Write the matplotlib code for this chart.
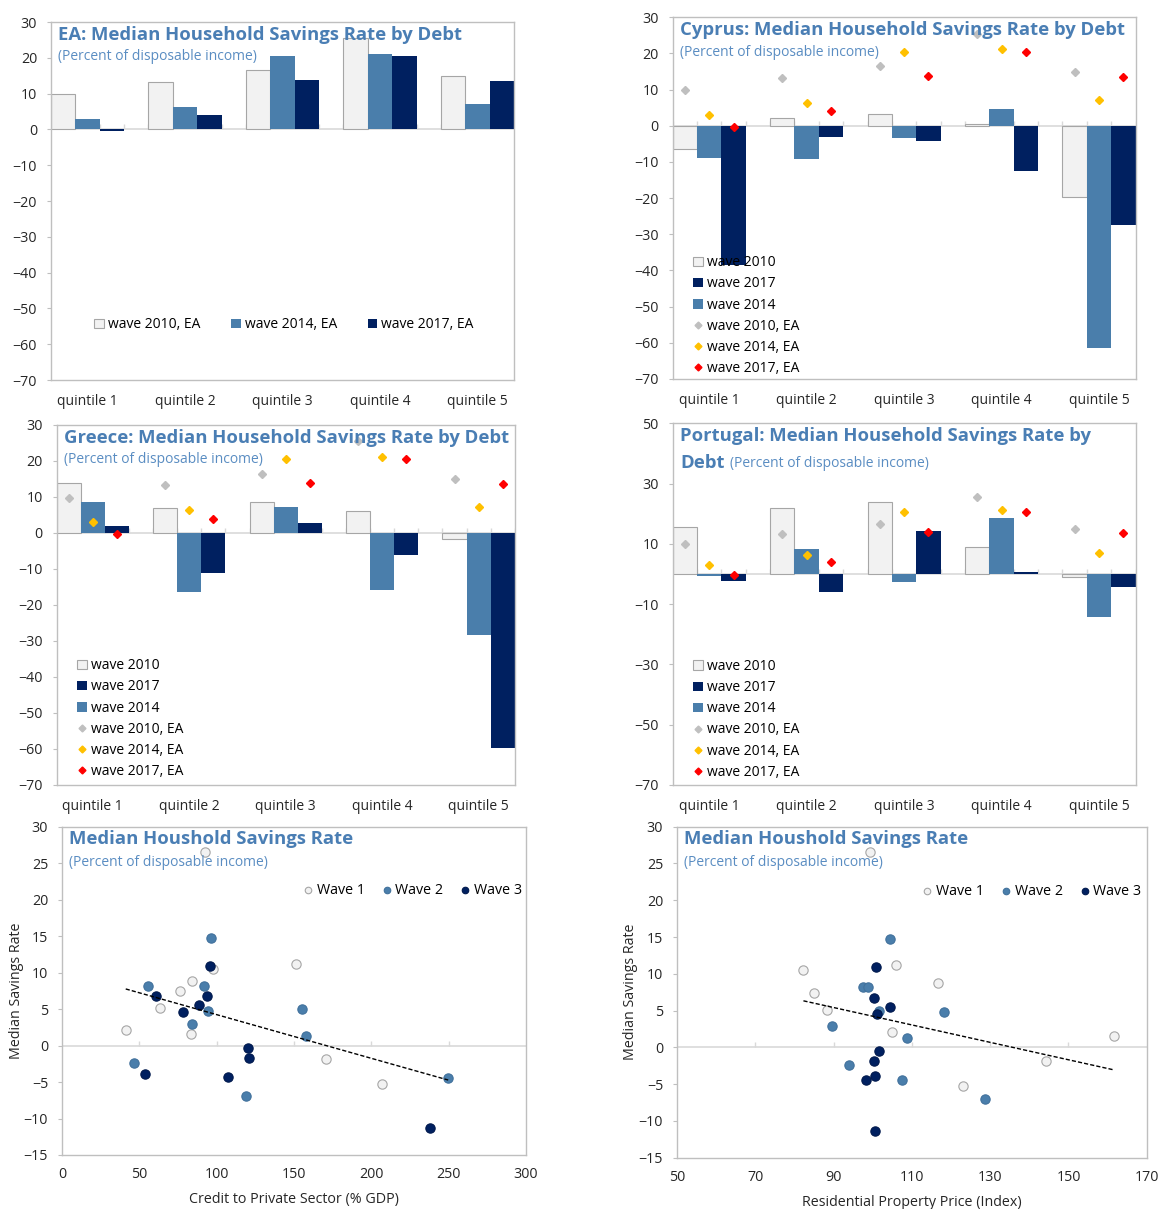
import numpy as np
import matplotlib
matplotlib.use("Agg")
import matplotlib.pyplot as plt
from matplotlib.patches import Patch
from matplotlib.lines import Line2D

plt.rcParams['font.family'] = ['Open Sans', 'DejaVu Sans']

# ---- data ----
quintiles = ['quintile 1', 'quintile 2', 'quintile 3', 'quintile 4', 'quintile 5']

ea_2010 = [9.8, 13.3, 16.5, 25.5, 15.0]
ea_2014 = [3.0, 6.3, 20.5, 21.2, 7.1]
ea_2017 = [-0.4, 4.0, 13.8, 20.5, 13.5]

cy_2010 = [-6.5, 2.1, 3.4, 0.5, -19.7]
cy_2014 = [-8.8, -9.2, -3.4, 4.7, -61.5]
cy_2017 = [-38.6, -3.2, -4.1, -12.6, -27.5]

gr_2010 = [14.0, 6.9, 8.7, 6.1, -1.7]
gr_2014 = [8.6, -16.5, 7.3, -15.9, -28.2]
gr_2017 = [1.9, -11.1, 2.8, -6.0, -59.8]

pt_2010 = [15.7, 22.0, 23.8, 9.1, -1.1]
pt_2014 = [-0.7, 8.2, -2.8, 18.7, -14.3]
pt_2017 = [-2.2, -6.0, 14.4, 0.7, -4.2]

# scatter: credit to private sector vs median savings rate
credit_w1 = [92.2, 97.9, 84.3, 76.6, 63.4, 41.2, 83.6, 151.3, 170.9, 206.6]
save1_w1 = [26.5, 10.5, 8.8, 7.5, 5.1, 2.2, 1.6, 11.2, -1.8, -5.2]
credit_w2 = [96.5, 55.5, 91.5, 94.1, 83.8, 155.1, 157.5, 46.7, 118.7, 249.7]
save1_w2 = [14.7, 8.2, 8.2, 4.8, 2.9, 5.0, 1.35, -2.4, -6.9, -4.4]
credit_w3 = [95.5, 60.8, 93.8, 88.8, 78.3, 120.4, 120.7, 107.5, 53.4, 238.2]
save1_w3 = [10.9, 6.8, 6.8, 5.6, 4.55, -0.4, -1.75, -4.35, -3.9, -11.35]

# scatter: residential property price vs median savings rate
price_w1 = [99.2, 82.3, 105.9, 116.6, 85.1, 88.2, 104.9, 161.7, 144.2, 123.1]
save2_w1 = [26.5, 10.5, 11.2, 8.75, 7.4, 5.1, 2.1, 1.55, -1.8, -5.2]
price_w2 = [104.5, 97.4, 98.9, 101.6, 118.3, 89.7, 108.8, 94.0, 107.4, 128.7]
save2_w2 = [14.7, 8.15, 8.15, 5.0, 4.75, 2.9, 1.3, -2.4, -4.4, -7.0]
price_w3 = [100.9, 100.4, 104.5, 101.1, 101.5, 100.4, 100.6, 98.2, 100.6]
save2_w3 = [10.9, 6.75, 5.45, 4.5, -0.45, -1.8, -3.95, -4.45, -11.4]

# ---- styles ----
W, H = 1159, 1209
LIGHT = '#F2F2F2'
LIGHT_EDGE = '#A6A6A6'
BLUE = '#4A7EAB'
NAVY = '#002060'
GREY_D = '#BFBFBF'
GOLD_D = '#FFC000'
RED_D = '#FF0000'
FRAME = '#BFBFBF'
ZERO = '#D9D9D9'
TITLE_C = '#4A7EB4'
SUB_C = '#5A8DC2'
TEXT_C = '#262626'
BW = 0.25


def px_axes(fig, left, top, right, bottom):
    """Add axes given a pixel box of the final image."""
    return fig.add_axes([left / W, 1 - bottom / H, (right - left) / W, (bottom - top) / H])


def style_frame(ax):
    for sp in ax.spines.values():
        sp.set_color(FRAME)
        sp.set_linewidth(1.0)
    ax.tick_params(axis='y', direction='out', length=3, color=FRAME, pad=7,
                   labelsize=10.3, labelcolor=TEXT_C)
    ax.tick_params(axis='x', length=0, pad=10, labelsize=10, labelcolor=TEXT_C)


def zero_ticks(ax, xs, height_px):
    """Small upward tick marks sitting on the zero line."""
    y0, y1 = ax.get_ylim()
    ln = 5.0 / height_px * (y1 - y0)
    ax.vlines(xs, 0, ln, color=ZERO, lw=1, zorder=1.5)


def bar_panel(ax, v2010, v2014, v2017, ylim, yticks, height_px, with_ea=True):
    x = np.arange(len(quintiles))
    ax.bar(x - BW, v2010, BW, color=LIGHT, edgecolor=LIGHT_EDGE, linewidth=0.8, zorder=2.2)
    ax.bar(x, v2014, BW, color=BLUE, zorder=2.2)
    ax.bar(x + BW, v2017, BW, color=NAVY, zorder=2.2)
    ax.axhline(0, color=ZERO, lw=1.2, zorder=1.6)
    ax.set_xlim(-1.5 * BW, len(quintiles) - 1 + 1.5 * BW)
    ax.set_ylim(*ylim)
    ax.set_yticks(yticks)
    ax.set_xticks(x)
    ax.set_xticklabels(quintiles)
    zero_ticks(ax, np.arange(-1.5 * BW, len(quintiles) - 1 + 1.5 * BW + 1e-9, BW), height_px)
    style_frame(ax)
    if with_ea:
        ax.plot(x - BW, ea_2010, 'D', ms=4.5, color=GREY_D, ls='none', zorder=2.5)
        ax.plot(x, ea_2014, 'D', ms=4.5, color=GOLD_D, ls='none', zorder=2.5)
        ax.plot(x + BW, ea_2017, 'D', ms=4.5, color=RED_D, ls='none', zorder=2.5)
        handles = [Patch(facecolor=LIGHT, edgecolor=LIGHT_EDGE, lw=0.8),
                   Patch(facecolor=NAVY),
                   Patch(facecolor=BLUE),
                   Line2D([], [], marker='D', ms=3.5, color=GREY_D, ls='none'),
                   Line2D([], [], marker='D', ms=3.5, color=GOLD_D, ls='none'),
                   Line2D([], [], marker='D', ms=3.5, color=RED_D, ls='none')]
        labels = ['wave 2010', 'wave 2017', 'wave 2014',
                  'wave 2010, EA', 'wave 2014, EA', 'wave 2017, EA']
        return handles, labels
    return None, None


def vertical_legend(ax, handles, labels, top):
    ax.legend(handles, labels, loc='upper left', bbox_to_anchor=(0.045, top), frameon=False,
              fontsize=10, handlelength=0.7, handleheight=0.7, handletextpad=0.3,
              labelspacing=0.44, borderpad=0, borderaxespad=0)


def add_titles(ax, title, y_title=0.965, y_sub=0.904, x=0.016):
    ax.text(x, y_title, title, transform=ax.transAxes, ha='left', va='center',
            fontsize=13.3, fontweight='bold', color=TITLE_C, zorder=5)
    ax.text(x, y_sub, '(Percent of disposable income)', transform=ax.transAxes,
            ha='left', va='center', fontsize=10, color=SUB_C, zorder=5)


def scatter_panel(ax, xs1, ys1, xs2, ys2, xs3, ys3, xlim, xticks, xlabel):
    ax.axhline(0, color=ZERO, lw=1.2, zorder=1)
    ax.scatter(xs1, ys1, s=45, color=LIGHT, edgecolor=LIGHT_EDGE, lw=0.8, zorder=3, label='Wave 1')
    ax.scatter(xs2, ys2, s=45, color=BLUE, edgecolor='#41719C', lw=0.8, zorder=3, label='Wave 2')
    ax.scatter(xs3, ys3, s=45, color=NAVY, edgecolor='#00194D', lw=0.8, zorder=3, label='Wave 3')
    # linear trend through all observations
    allx = np.concatenate([xs1, xs2, xs3])
    ally = np.concatenate([ys1, ys2, ys3])
    slope, icpt = np.polyfit(allx, ally, 1)
    tx = np.array([allx.min(), allx.max()])
    ax.plot(tx, slope * tx + icpt, color='black', lw=1, ls=(0, (3, 1.5)), zorder=4)
    ax.set_xlim(*xlim)
    ax.set_ylim(-15, 30)
    ax.set_xticks(xticks)
    ax.set_yticks(np.arange(-15, 31, 5))
    style_frame(ax)
    ax.tick_params(axis='x', pad=9, labelsize=10.3)
    zero_ticks(ax, xticks[1:-1], 330)
    ax.set_xlabel(xlabel, fontsize=10.3, color=TEXT_C)
    ax.set_ylabel('Median Savings Rate', fontsize=10.3, color=TEXT_C)
    ax.xaxis.set_label_coords(0.5, -0.113)
    ax.yaxis.set_label_coords(-0.082, 0.5)
    ax.text(0.015, 0.962, 'Median Houshold Savings Rate', transform=ax.transAxes,
            ha='left', va='center', fontsize=13.3, fontweight='bold', color=TITLE_C, zorder=5)
    ax.text(0.015, 0.892, '(Percent of disposable income)', transform=ax.transAxes,
            ha='left', va='center', fontsize=10, color=SUB_C, zorder=5)
    ax.legend(loc='center', bbox_to_anchor=(0.757, 0.805), ncol=3, frameon=False,
              fontsize=10.3, handlelength=0.5, handletextpad=0.35, columnspacing=1.3,
              markerscale=0.7, borderpad=0)


def main():
    fig = plt.figure(figsize=(W / 100, H / 100), dpi=100)

    # EA
    ax1 = px_axes(fig, 51, 22, 514, 380)
    bar_panel(ax1, ea_2010, ea_2014, ea_2017, (-70, 30), np.arange(-70, 31, 10), 358, with_ea=False)
    add_titles(ax1, 'EA: Median Household Savings Rate by Debt')
    ea_handles = [Patch(facecolor=LIGHT, edgecolor=LIGHT_EDGE, lw=0.8),
                  Patch(facecolor=BLUE), Patch(facecolor=NAVY)]
    ax1.legend(ea_handles, ['wave 2010, EA', 'wave 2014, EA', 'wave 2017, EA'],
               loc='center', bbox_to_anchor=(0.503, 0.154), ncol=3, frameon=False,
               fontsize=10, handlelength=0.7, handleheight=0.7, handletextpad=0.3,
               columnspacing=2.2, borderpad=0)

    # Cyprus
    ax2 = px_axes(fig, 672.6, 17.3, 1135.5, 379)
    h, l = bar_panel(ax2, cy_2010, cy_2014, cy_2017, (-70, 30), np.arange(-70, 31, 10), 362)
    add_titles(ax2, 'Cyprus: Median Household Savings Rate by Debt')
    vertical_legend(ax2, h, l, 0.342)

    # Greece
    ax3 = px_axes(fig, 56.7, 425, 514.8, 785)
    h, l = bar_panel(ax3, gr_2010, gr_2014, gr_2017, (-70, 30), np.arange(-70, 31, 10), 360)
    add_titles(ax3, 'Greece: Median Household Savings Rate by Debt')
    vertical_legend(ax3, h, l, 0.352)

    # Portugal
    ax4 = px_axes(fig, 672.6, 423.3, 1135.5, 785)
    h, l = bar_panel(ax4, pt_2010, pt_2014, pt_2017, (-70, 50), np.arange(-70, 51, 20), 362)
    ax4.text(0.016, 0.965, 'Portugal: Median Household Savings Rate by', transform=ax4.transAxes,
             ha='left', va='center', fontsize=13.3, fontweight='bold', color=TITLE_C, zorder=5)
    debt = ax4.text(0.016, 0.89, 'Debt', transform=ax4.transAxes, ha='left', va='center',
                    fontsize=13.3, fontweight='bold', color=TITLE_C, zorder=5)
    ax4.annotate('(Percent of disposable income)', xy=(1, 0.5), xycoords=debt,
                 xytext=(4, 0), textcoords='offset points', ha='left', va='center',
                 fontsize=10, color=SUB_C, zorder=5)
    vertical_legend(ax4, h, l, 0.348)

    # scatter: credit
    ax5 = px_axes(fig, 62, 826.7, 526, 1155)
    scatter_panel(ax5, credit_w1, save1_w1, credit_w2, save1_w2, credit_w3, save1_w3,
                  (0, 300), np.arange(0, 301, 50), 'Credit to Private Sector (% GDP)')

    # scatter: property prices
    ax6 = px_axes(fig, 677, 826.7, 1146.7, 1157.7)
    scatter_panel(ax6, price_w1, save2_w1, price_w2, save2_w2, price_w3, save2_w3,
                  (50, 170), np.arange(50, 171, 20), 'Residential Property Price (Index)')

    fig.savefig('out.png', dpi=100)


if __name__ == "__main__":
    main()
